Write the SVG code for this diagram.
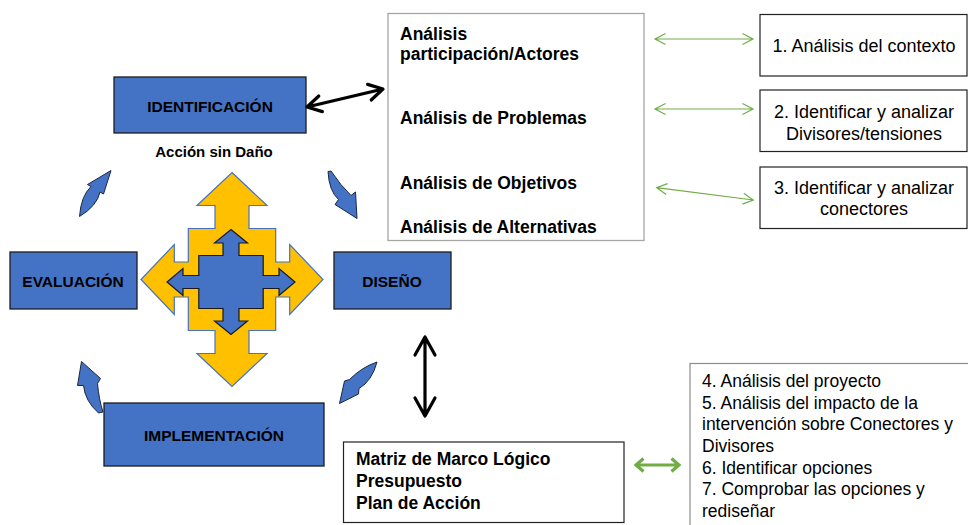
<svg xmlns="http://www.w3.org/2000/svg" width="968" height="525" viewBox="0 0 968 525">
<style>
text{font-family:"Liberation Sans",Arial,sans-serif;fill:#000}
.bt{font-weight:bold;font-size:15.5px;text-anchor:middle}
.big{font-weight:bold;font-size:17.5px}
.reg{font-size:17.5px}
.r18{font-size:18px;text-anchor:middle}
.phase{fill:#4472C4;stroke:#1c1c1c;stroke-width:1.3}
.curv{fill:#4472C4;stroke:#1c2740;stroke-width:1}
.gthin{fill:none;stroke:#70AD47;stroke-width:1.2}
.gthick{fill:none;stroke:#70AD47;stroke-width:3.2}
.blk{fill:none;stroke:#000;stroke-width:3.2;stroke-linecap:round;stroke-linejoin:round}
</style>
<rect width="968" height="525" fill="#fff"/>

<g id="cross">
<path d="M232,172.5 L267,205.5 L249,205.5 L249,228.5 L275.7,228.5 L275.7,262 L289.7,262 L289.7,244.5 L323,279.5 L289.7,314.5 L289.7,297 L275.7,297 L275.7,330.5 L249,330.5 L249,353.5 L267,353.5 L232,386.5 L197,353.5 L215,353.5 L215,330.5 L188.3,330.5 L188.3,297 L174.3,297 L174.3,314.5 L141,279.5 L174.3,244.5 L174.3,262 L188.3,262 L188.3,228.5 L215,228.5 L215,205.5 L197,205.5 Z" fill="#FFC000" stroke="#4472C4" stroke-width="1.2"/>
<path d="M231,229.5 L247.5,243 L239,243 L239,255.5 L263.2,255.5 L263.2,275.5 L279,275.5 L279,268.5 L295,282 L279,295.5 L279,288.5 L263.2,288.5 L263.2,308.5 L239,308.5 L239,321 L247.5,321 L231,334.5 L214.5,321 L223,321 L223,308.5 L198.8,308.5 L198.8,288.5 L183,288.5 L183,295.5 L167,282 L183,268.5 L183,275.5 L198.8,275.5 L198.8,255.5 L223,255.5 L223,243 L214.5,243 Z" fill="#4472C4" stroke="#1a1a1a" stroke-width="1.2"/>
</g>

<g id="identificacion">
<rect class="phase" x="114" y="77" width="192" height="56"/>
<text class="bt" x="210" y="111.5">IDENTIFICACIÓN</text>
<text class="bt" x="214" y="157" style="font-size:15px">Acción sin Daño</text>
</g>
<g id="evaluacion">
<rect class="phase" x="10" y="252" width="127" height="57"/>
<text class="bt" x="73" y="286.5">EVALUACIÓN</text>
</g>
<g id="diseno">
<rect class="phase" x="334" y="252" width="117" height="57"/>
<text class="bt" x="392" y="286.5">DISEÑO</text>
</g>
<g id="implementacion">
<rect class="phase" x="104" y="403" width="220" height="63"/>
<text class="bt" x="214" y="441">IMPLEMENTACIÓN</text>
</g>

<g id="analisis">
<rect x="388" y="13.5" width="256" height="227" fill="#fff" stroke="#a6a6a6" stroke-width="1.3"/>
<text class="big" x="400" y="39.5">Análisis</text>
<text class="big" x="400" y="59.5">participación/Actores</text>
<text class="big" x="400" y="124">Análisis de Problemas</text>
<text class="big" x="400" y="189">Análisis de Objetivos</text>
<text class="big" x="400" y="232.5">Análisis de Alternativas</text>
</g>

<g id="paso1">
<rect x="760" y="14.5" width="207" height="61.5" fill="#fff" stroke="#222" stroke-width="1.2"/>
<text class="r18" x="864" y="52">1. Análisis del contexto</text>
</g>
<g id="paso2">
<rect x="760" y="90" width="207" height="61.5" fill="#fff" stroke="#222" stroke-width="1.2"/>
<text class="r18" x="864" y="117.5">2. Identificar y analizar</text>
<text class="r18" x="864" y="139.5">Divisores/tensiones</text>
</g>
<g id="paso3">
<rect x="760" y="167" width="207" height="61.5" fill="#fff" stroke="#222" stroke-width="1.2"/>
<text class="r18" x="864" y="193.5">3. Identificar y analizar</text>
<text class="r18" x="864" y="215">conectores</text>
</g>

<g id="matriz">
<rect x="343.5" y="442" width="280.5" height="80.5" fill="#fff" stroke="#222" stroke-width="1.2"/>
<text class="big" x="356" y="465">Matriz de Marco Lógico</text>
<text class="big" x="356" y="486.5">Presupuesto</text>
<text class="big" x="356" y="508.5">Plan de Acción</text>
</g>

<g id="pasos4a7">
<rect x="690" y="363.5" width="300" height="200" fill="#fff" stroke="#8c8c8c" stroke-width="1.2"/>
<text class="reg" x="702" y="387">4. Análisis del proyecto</text>
<text class="reg" x="702" y="408.7">5. Análisis del impacto de la</text>
<text class="reg" x="702" y="430.3">intervención sobre Conectores y</text>
<text class="reg" x="702" y="452">Divisores</text>
<text class="reg" x="702" y="473.7">6. Identificar opciones</text>
<text class="reg" x="702" y="495.3">7. Comprobar las opciones y</text>
<text class="reg" x="702" y="517">rediseñar</text>
</g>

<g id="connectors">
<path class="curv" d="M79.5,216.5 Q81,196 91,186.5 L87.5,184.5 L111,170.5 L103.5,194 L100,192 Q97,206 79.5,216.5 Z"/>
<path class="curv" d="M328,171.5 Q329,191 338.5,199.5 L335,204.5 L357,218.5 L355.5,192 L351,195.5 Q341,186 331,171 Z"/>
<path class="curv" d="M339.5,403.5 L344.5,381 L349.5,379.5 Q362,367 377,362 Q372,381 359,388.5 L358.5,394 Z"/>
<path class="curv" d="M81.5,361.5 L100.5,378.5 L97.5,383.5 Q99,400 103,412 L98.5,413 Q85,401 83.5,385.5 L77.5,385.5 Z"/>

<path class="blk" d="M308,106.8 L382,89.2 M322.4,111.6 L307,107 L318.8,96 M371.2,100 L383,89 L367.6,84.4"/>
<path class="blk" d="M425,338 L425,415 M415,355 L425,337 L435,355 M415,398 L425,416 L435,398"/>

<path class="gthin" d="M655,39 L753,39 M665.5,33.5 L655,39 L665.5,44.5 M742.5,33.5 L753,39 L742.5,44.5"/>
<path class="gthin" d="M655,109 L753,109 M665.5,103.5 L655,109 L665.5,114.5 M742.5,103.5 L753,109 L742.5,114.5"/>
<path class="gthin" d="M656.7,187.7 L753.3,200 M667.6,183.6 L656.7,187.7 L666.2,194.5 M743.8,193.2 L753.3,200 L742.4,204.1"/>
<path class="gthick" d="M636,465 L679,465 M643.5,458.5 L636,465 L643.5,471.5 M671.5,458.5 L679,465 L671.5,471.5"/>
</g>
</svg>
